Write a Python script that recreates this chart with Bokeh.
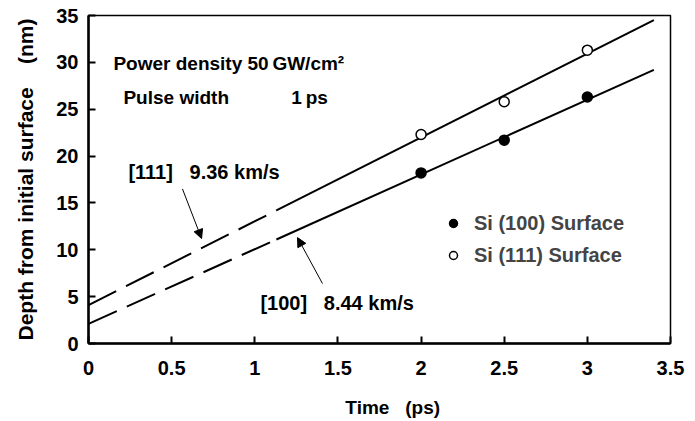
from bokeh.plotting import figure
from bokeh.models import (Range1d, FixedTicker, Label, Arrow, NormalHead,
                          Legend, LegendItem)
from bokeh.embed import file_html
from bokeh.resources import INLINE

# ---------------- data ----------------
time_pts = [2.0, 2.5, 3.0]
si100_depth = [18.2, 21.7, 26.3]
si111_depth = [22.3, 25.8, 31.3]

# fitted lines (dashed extrapolation + solid part)
fit111_dash_x = [0.0, 1.13]
fit111_dash_y = [4.1, 14.2]
fit111_solid_x = [1.13, 3.4]
fit111_solid_y = [14.2, 34.5]
fit100_dash_x = [0.0, 1.13]
fit100_dash_y = [2.1, 11.1]
fit100_solid_x = [1.13, 3.4]
fit100_solid_y = [11.1, 29.2]

x_ticks = [0, 0.5, 1, 1.5, 2, 2.5, 3, 3.5]
x_tick_labels = ["0", "0.5", "1", "1.5", "2", "2.5", "3", "3.5"]
y_ticks = [0, 5, 10, 15, 20, 25, 30, 35]
y_tick_labels = ["0", "5", "10", "15", "20", "25", "30", "35"]

series_labels = ["Si (100) Surface", "Si (111) Surface"]

FONT = "Liberation Sans"
NB = "\u00a0"

p = figure(width=695, height=421, output_backend="svg", toolbar_location=None,
           x_range=Range1d(0, 3.5), y_range=Range1d(0, 35),
           min_border_left=88, min_border_right=25, min_border_top=15,
           min_border_bottom=78)
p.xgrid.visible = False
p.ygrid.visible = False
p.outline_line_color = "black"
p.outline_line_width = 1.5
p.background_fill_color = "white"
p.border_fill_color = "white"

for ax, ticks, labels in ((p.xaxis[0], x_ticks, x_tick_labels),
                          (p.yaxis[0], y_ticks, y_tick_labels)):
    ax.ticker = FixedTicker(ticks=ticks)
    ax.major_label_overrides = {float(t): l for t, l in zip(ticks, labels)}
    ax.major_tick_in = 7
    ax.major_tick_out = 0
    ax.minor_tick_in = 0
    ax.minor_tick_out = 0
    ax.major_tick_line_width = 2
    ax.axis_line_width = 2.5
    ax.major_label_text_font = FONT
    ax.major_label_text_font_style = "bold"
    ax.major_label_text_font_size = "20px"
    ax.major_label_text_color = "black"
    ax.axis_label_text_font = FONT
    ax.axis_label_text_font_style = "bold"
    ax.axis_label_text_color = "black"

p.xaxis.axis_label = NB * 5 + "Time" + NB * 3 + "(ps)"
p.xaxis.axis_label_text_font_size = "19px"
p.xaxis.major_label_standoff = 17
p.xaxis.axis_label_standoff = 19
p.yaxis.axis_label = "Depth from initial surface" + NB * 4 + "(nm)"
p.yaxis.axis_label_text_font_size = "21px"
p.yaxis.major_label_standoff = 10
p.yaxis.axis_label_standoff = 16

# fit lines
p.line(fit111_dash_x, fit111_dash_y, line_color="black", line_width=2, line_dash="31 11")
p.line(fit111_solid_x, fit111_solid_y, line_color="black", line_width=2)
p.line(fit100_dash_x, fit100_dash_y, line_color="black", line_width=2, line_dash="31 11")
p.line(fit100_solid_x, fit100_solid_y, line_color="black", line_width=2)

# data points
r100 = p.scatter(time_pts, si100_depth, marker="circle", size=10,
                 fill_color="black", line_color="black", line_width=1.5)
r111 = p.scatter(time_pts, si111_depth, marker="circle", size=10,
                 fill_color="white", line_color="black", line_width=1.5)

legend = Legend(items=[LegendItem(label=series_labels[0], renderers=[r100]),
                       LegendItem(label=series_labels[1], renderers=[r111])],
                location=(355, 76), border_line_color=None,
                background_fill_alpha=0, label_text_font=FONT,
                label_text_font_style="bold", label_text_font_size="20px",
                glyph_width=20, glyph_height=24, label_height=24,
                label_standoff=11, spacing=8, padding=10, margin=0)
p.add_layout(legend)

def lab(x, y, text, size="20px"):
    p.add_layout(Label(x=x, y=y, text=text, text_font=FONT,
                       text_font_style="bold", text_font_size=size,
                       text_baseline="middle", text_align="left",
                       text_color="black"))

lab(0.15, 29.9, "Power density", "19px")
lab(0.956, 29.9, "50\u2009GW/cm\u00b2", "19px")
lab(0.21, 26.3, "Pulse width", "19px")
lab(1.22, 26.3, "1\u2009ps", "19px")
lab(0.24, 18.25, "[111]" + NB * 3 + "9.36 km/s")
lab(1.034, 4.27, "[100]" + NB * 3 + "8.44 km/s")

p.add_layout(Arrow(x_start=0.565, y_start=16.5, x_end=0.68, y_end=11.2,
                   line_width=1, line_color="black",
                   end=NormalHead(size=9, fill_color="black", line_color="black")))
p.add_layout(Arrow(x_start=1.407, y_start=6.4, x_end=1.257, y_end=11.3,
                   line_width=1, line_color="black",
                   end=NormalHead(size=9, fill_color="black", line_color="black")))

open("out.html", "w").write(file_html(p, INLINE))
